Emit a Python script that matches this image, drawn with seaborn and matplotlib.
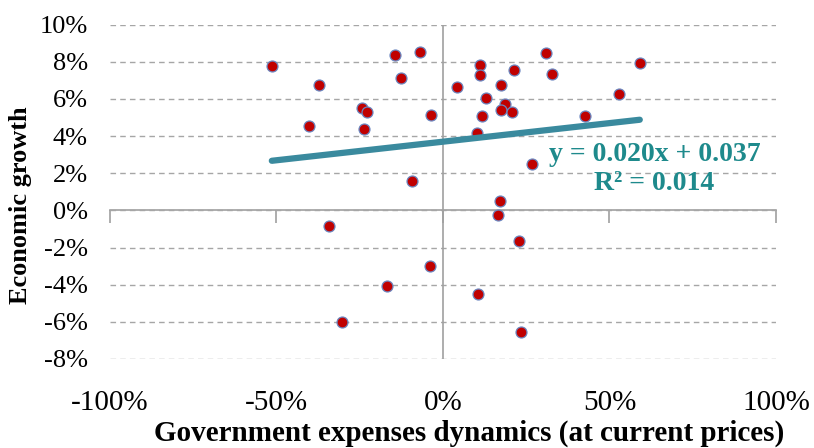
import numpy as np
import pandas as pd
import matplotlib
matplotlib.use("Agg")
import matplotlib.pyplot as plt
import seaborn as sns
from matplotlib.ticker import FuncFormatter

# ---- data (fractions) ----
expenses = [-0.514, -0.373, -0.402, -0.244, -0.227, -0.236, -0.143, -0.125, -0.094, -0.068,
            -0.341, -0.037, 0.042, 0.111, 0.111, 0.173, 0.213, 0.309, 0.328, 0.591,
            0.530, 0.129, 0.186, 0.174, 0.206, 0.118, 0.425, 0.101, 0.266, 0.170,
            0.165, -0.167, -0.304, 0.228, -0.040, 0.105, 0.233]
growth = [0.0776, 0.0674, 0.0453, 0.0552, 0.0530, 0.0438, 0.0839, 0.0711, 0.0156, 0.0855,
          -0.0084, 0.0512, 0.0666, 0.0783, 0.0729, 0.0674, 0.0756, 0.0848, 0.0737, 0.0794,
          0.0627, 0.0603, 0.0573, 0.0543, 0.0528, 0.0509, 0.0507, 0.0419, 0.0250, 0.0051,
          -0.0027, -0.0407, -0.0600, -0.0165, -0.0300, -0.0449, -0.0657]
trend_slope = 0.020
trend_intercept = 0.037
r_squared = 0.014
x_ticks = [-1.0, -0.5, 0.0, 0.5, 1.0]
y_ticks = [-0.08, -0.06, -0.04, -0.02, 0.0, 0.02, 0.04, 0.06, 0.08, 0.10]

df = pd.DataFrame({"expenses": expenses, "growth": growth})

sns.set_theme(style="white")
plt.rcParams["font.family"] = ["Liberation Serif", "DejaVu Serif"]

fig = plt.figure(figsize=(8.14, 4.48), dpi=100)
ax = fig.add_axes([0.1351, 0.1987, 0.9533 - 0.1351, 0.9449 - 0.1987])

ax.set_xlim(-1.0, 1.0)
ax.set_ylim(-0.08, 0.10)
ax.set_xticks(x_ticks)
ax.set_yticks(y_ticks)
pct = FuncFormatter(lambda v, p: f"{v*100:.0f}%")
ax.xaxis.set_major_formatter(pct)
ax.yaxis.set_major_formatter(pct)

for s in ax.spines.values():
    s.set_visible(False)

ax.yaxis.grid(True, color="#A6A6A6", linestyle=(0, (4, 3)), linewidth=1.0)
ax.xaxis.grid(False)
ax.set_axisbelow(True)

ax.tick_params(axis="x", length=0, pad=22, labelsize=21, labelcolor="black")
ax.tick_params(axis="y", length=0, pad=16, labelsize=19, labelcolor="black")

# axis lines through the origin
ax.axvline(0, color="#A0A0A0", linewidth=1.2, zorder=1)
sec = ax.secondary_xaxis(8 / 18)
sec.set_xticks(x_ticks)
sec.set_xticklabels([""] * len(x_ticks))
sec.tick_params(axis="x", direction="out", length=9, width=1.2, color="#A0A0A0")
sec.spines["bottom"].set_color("#A0A0A0")
sec.spines["bottom"].set_linewidth(1.2)

sns.scatterplot(data=df, x="expenses", y="growth", ax=ax, s=62, color="#C00000",
                edgecolor="#6A86C0", linewidth=0.9, zorder=3, legend=False)

xs = np.array([min(expenses), max(expenses)])
ax.plot(xs, trend_slope * xs + trend_intercept, color="#3A8A9E", linewidth=4.5,
        solid_capstyle="round", zorder=4)

ax.text(0.635, 0.0222, f"y = {trend_slope:.3f}x + {trend_intercept:.3f}\nR² = {r_squared:.3f}",
        ha="center", va="center", color="#1E8A8C", fontsize=20, fontweight="bold",
        linespacing=1.2, zorder=5)

ax.set_xlabel("Government expenses dynamics (at current prices)", fontsize=21,
              fontweight="bold", labelpad=0, color="black")
ax.set_ylabel("Economic growth", fontsize=19, fontweight="bold", labelpad=6, color="black")
ax.xaxis.set_label_coords(0.54, -0.183)
ax.yaxis.set_label_coords(-0.117, 0.46)

fig.savefig("out.png", dpi=100)
